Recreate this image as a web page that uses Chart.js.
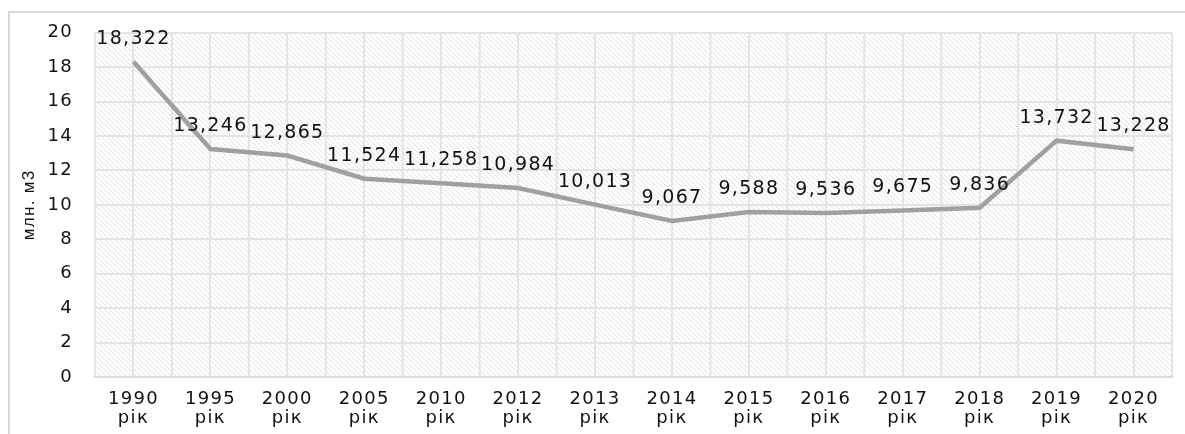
<!DOCTYPE html>
<html>
<head>
<meta charset="utf-8">
<script src="https://cdn.jsdelivr.net/npm/chart.js@4.4.0/dist/chart.umd.min.js"></script>
<style>
  html, body { margin: 0; padding: 0; background: #fff; }
  #wrap { width: 1185px; height: 434px; }
</style>
</head>
<body>
<div id="wrap"><canvas id="chart"></canvas></div>
<script>
const years = ["1990", "1995", "2000", "2005", "2010", "2012", "2013", "2014", "2015", "2016", "2017", "2018", "2019", "2020"];
const volumes = [18.322, 13.246, 12.865, 11.524, 11.258, 10.984, 10.013, 9.067, 9.588, 9.536, 9.675, 9.836, 13.732, 13.228];
const yTitle = "млн. м3";

const FONT = "'DejaVu Sans', sans-serif";
const SPACING = "1.3px";

// diagonal hatch tile for the plot background
function hatchPattern(ctx) {
  const c = document.createElement("canvas");
  c.width = 5; c.height = 5;
  const g = c.getContext("2d");
  g.fillStyle = "#ffffff";
  g.fillRect(0, 0, 5, 5);
  g.strokeStyle = "#e0e0e0";
  g.lineWidth = 1;
  g.beginPath();
  g.moveTo(-1, -1); g.lineTo(6, 6);
  g.moveTo(-1, 4); g.lineTo(1, 6);
  g.moveTo(4, -1); g.lineTo(6, 1);
  g.stroke();
  return ctx.createPattern(c, "repeat");
}

const backdrop = {
  id: "backdrop",
  beforeLayout(chart) { chart.ctx.letterSpacing = SPACING; },
  beforeDraw(chart) {
    const { ctx, chartArea: a, scales } = chart;
    ctx.letterSpacing = SPACING;
    ctx.save();
    ctx.strokeStyle = "#d9d9d9";
    ctx.lineWidth = 2;
    ctx.strokeRect(9, 12, 1300, 600);
    ctx.fillStyle = hatchPattern(ctx);
    ctx.fillRect(a.left, a.top, a.right - a.left, a.bottom - a.top);
    // vertical lines between categories
    const x = scales.x;
    const half = (x.getPixelForValue(1) - x.getPixelForValue(0)) / 2;
    ctx.strokeStyle = "#e4e4e4";
    ctx.lineWidth = 2;
    ctx.beginPath();
    for (let i = 0; i <= years.length; i++) {
      const px = x.getPixelForValue(0) - half + i * half * 2;
      ctx.moveTo(px, a.top);
      ctx.lineTo(px, a.bottom);
    }
    ctx.stroke();
    ctx.restore();
  }
};

const valueLabels = {
  id: "valueLabels",
  afterDatasetsDraw(chart) {
    const ctx = chart.ctx;
    const meta = chart.getDatasetMeta(0);
    ctx.save();
    ctx.letterSpacing = SPACING;
    ctx.font = "19px " + FONT;
    ctx.fillStyle = "#111";
    ctx.textAlign = "center";
    ctx.textBaseline = "middle";
    meta.data.forEach((pt, i) => {
      const txt = volumes[i].toFixed(3).replace(".", ",");
      ctx.fillText(txt, pt.x, pt.y - 23);
    });
    ctx.restore();
  }
};

new Chart(document.getElementById("chart"), {
  type: "line",
  data: {
    labels: years.map(y => [y, "рік"]),
    datasets: [{
      data: volumes,
      borderColor: "#a0a0a0",
      borderWidth: 4.5,
      pointRadius: 0,
      tension: 0,
      fill: false
    }]
  },
  options: {
    responsive: true,
    maintainAspectRatio: false,
    animation: false,
    events: [],
    layout: { padding: { left: 0, top: 32, right: 13, bottom: 0 } },
    plugins: { legend: { display: false }, tooltip: { enabled: false } },
    scales: {
      x: {
        offset: true,
        afterFit(s) { s.height = 57; },
        grid: { color: "#e4e4e4", lineWidth: 2, drawTicks: false, offset: false },
        border: { color: "#d9d9d9", width: 2 },
        ticks: {
          color: "#111",
          font: { family: FONT, size: 18, lineHeight: 1.1 },
          padding: 12,
          maxRotation: 0,
          autoSkip: false
        }
      },
      y: {
        min: 0,
        max: 20,
        afterFit(s) { s.width = 95; },
        grid: { color: "#e4e4e4", lineWidth: 2, drawTicks: false },
        border: { display: false },
        ticks: {
          stepSize: 2,
          color: "#111",
          font: { family: FONT, size: 18 },
          padding: 22
        },
        title: {
          display: true,
          text: yTitle,
          color: "#111",
          font: { family: "'Liberation Sans Narrow', 'Liberation Sans', sans-serif", size: 17 },
          padding: { top: 19, bottom: 0 }
        }
      }
    }
  },
  plugins: [backdrop, valueLabels]
});
</script>
</body>
</html>
